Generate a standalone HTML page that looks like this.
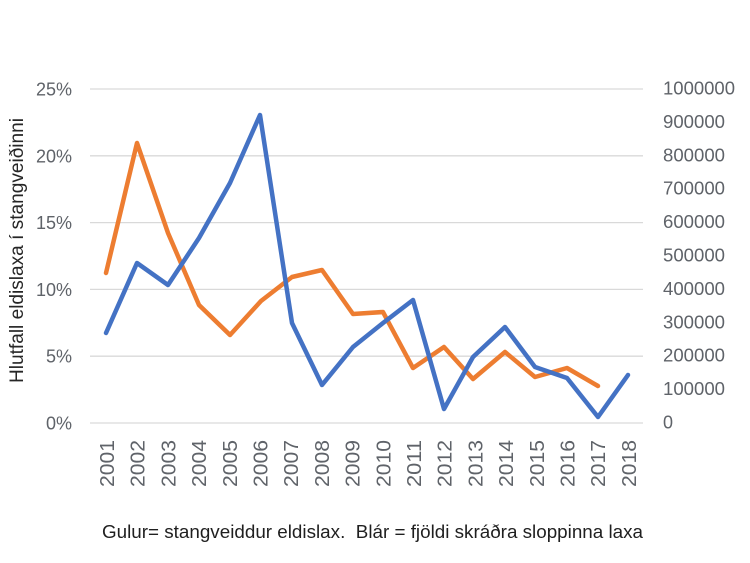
<!DOCTYPE html>
<html>
<head>
<meta charset="utf-8">
<style>
  html,body{margin:0;padding:0;background:#ffffff;}
  svg{display:block;}
  text{font-family:"Liberation Sans", "DejaVu Sans", sans-serif;}
</style>
</head>
<body>
<svg width="750" height="563" viewBox="0 0 750 563" xmlns="http://www.w3.org/2000/svg">
  <rect x="0" y="0" width="750" height="563" fill="#ffffff"/>
  <!-- gridlines -->
  <g stroke="#d9d9d9" stroke-width="1.3">
    <line x1="90" y1="89" x2="643" y2="89"/>
    <line x1="90" y1="155.8" x2="643" y2="155.8"/>
    <line x1="90" y1="222.6" x2="643" y2="222.6"/>
    <line x1="90" y1="289.4" x2="643" y2="289.4"/>
    <line x1="90" y1="356.2" x2="643" y2="356.2"/>
    <line x1="90" y1="423" x2="643" y2="423"/>
  </g>
  <!-- left axis labels -->
  <g fill="#5f6369" font-size="18" text-anchor="end">
    <text x="72" y="95.5">25%</text>
    <text x="72" y="162.3">20%</text>
    <text x="72" y="229.1">15%</text>
    <text x="72" y="295.9">10%</text>
    <text x="72" y="362.7">5%</text>
    <text x="72" y="429.5">0%</text>
  </g>
  <!-- right axis labels -->
  <g fill="#5f6369" font-size="18">
    <text x="663" y="94.5" textLength="72" lengthAdjust="spacingAndGlyphs">1000000</text>
    <text x="663" y="127.9" textLength="62" lengthAdjust="spacingAndGlyphs">900000</text>
    <text x="663" y="161.3" textLength="62" lengthAdjust="spacingAndGlyphs">800000</text>
    <text x="663" y="194.7" textLength="62" lengthAdjust="spacingAndGlyphs">700000</text>
    <text x="663" y="228.1" textLength="62" lengthAdjust="spacingAndGlyphs">600000</text>
    <text x="663" y="261.5" textLength="62" lengthAdjust="spacingAndGlyphs">500000</text>
    <text x="663" y="294.9" textLength="62" lengthAdjust="spacingAndGlyphs">400000</text>
    <text x="663" y="328.3" textLength="62" lengthAdjust="spacingAndGlyphs">300000</text>
    <text x="663" y="361.7" textLength="62" lengthAdjust="spacingAndGlyphs">200000</text>
    <text x="663" y="395.1" textLength="62" lengthAdjust="spacingAndGlyphs">100000</text>
    <text x="663" y="428.5">0</text>
  </g>
  <!-- y axis title -->
  <text transform="translate(23,383) rotate(-90)" fill="#262626" font-size="19" textLength="265" lengthAdjust="spacingAndGlyphs">Hlutfall eldislaxa í stangveiðinni</text>
  <!-- x axis labels -->
  <g fill="#5f6369" font-size="20">
    <text transform="translate(114,487) rotate(-90)" textLength="47" lengthAdjust="spacingAndGlyphs">2001</text>
    <text transform="translate(144.7,487) rotate(-90)" textLength="47" lengthAdjust="spacingAndGlyphs">2002</text>
    <text transform="translate(175.4,487) rotate(-90)" textLength="47" lengthAdjust="spacingAndGlyphs">2003</text>
    <text transform="translate(206.1,487) rotate(-90)" textLength="47" lengthAdjust="spacingAndGlyphs">2004</text>
    <text transform="translate(236.8,487) rotate(-90)" textLength="47" lengthAdjust="spacingAndGlyphs">2005</text>
    <text transform="translate(267.5,487) rotate(-90)" textLength="47" lengthAdjust="spacingAndGlyphs">2006</text>
    <text transform="translate(298.2,487) rotate(-90)" textLength="47" lengthAdjust="spacingAndGlyphs">2007</text>
    <text transform="translate(328.9,487) rotate(-90)" textLength="47" lengthAdjust="spacingAndGlyphs">2008</text>
    <text transform="translate(359.6,487) rotate(-90)" textLength="47" lengthAdjust="spacingAndGlyphs">2009</text>
    <text transform="translate(390.3,487) rotate(-90)" textLength="47" lengthAdjust="spacingAndGlyphs">2010</text>
    <text transform="translate(421,487) rotate(-90)" textLength="47" lengthAdjust="spacingAndGlyphs">2011</text>
    <text transform="translate(451.7,487) rotate(-90)" textLength="47" lengthAdjust="spacingAndGlyphs">2012</text>
    <text transform="translate(482.4,487) rotate(-90)" textLength="47" lengthAdjust="spacingAndGlyphs">2013</text>
    <text transform="translate(513.1,487) rotate(-90)" textLength="47" lengthAdjust="spacingAndGlyphs">2014</text>
    <text transform="translate(543.8,487) rotate(-90)" textLength="47" lengthAdjust="spacingAndGlyphs">2015</text>
    <text transform="translate(574.5,487) rotate(-90)" textLength="47" lengthAdjust="spacingAndGlyphs">2016</text>
    <text transform="translate(605.2,487) rotate(-90)" textLength="47" lengthAdjust="spacingAndGlyphs">2017</text>
    <text transform="translate(635.9,487) rotate(-90)" textLength="47" lengthAdjust="spacingAndGlyphs">2018</text>
  </g>
  <!-- orange series -->
  <polyline fill="none" stroke="#ed7d31" stroke-width="4.5" stroke-linejoin="round" stroke-linecap="round"
    points="106,273 137,143 168,233 199,305 230,335 261,301 292,277 322,270 353,314 383,312 413,368 444,347 473,379 505,352 535,377 567,368 598,386"/>
  <!-- blue series -->
  <polyline fill="none" stroke="#4472c4" stroke-width="4.5" stroke-linejoin="round" stroke-linecap="round"
    points="106,333 137,263 168,285 199,238 230,183 260,115 292,323 322,385 353,347 383,323 413,300 444,409 473,357 505,327 535,367 567,378 598,417 628,375"/>
  <!-- caption -->
  <text x="102" y="538" fill="#1f1f1f" font-size="18" textLength="541" lengthAdjust="spacingAndGlyphs" xml:space="preserve">Gulur= stangveiddur eldislax.  Blár = fjöldi skráðra sloppinna laxa</text>
</svg>
</body>
</html>
